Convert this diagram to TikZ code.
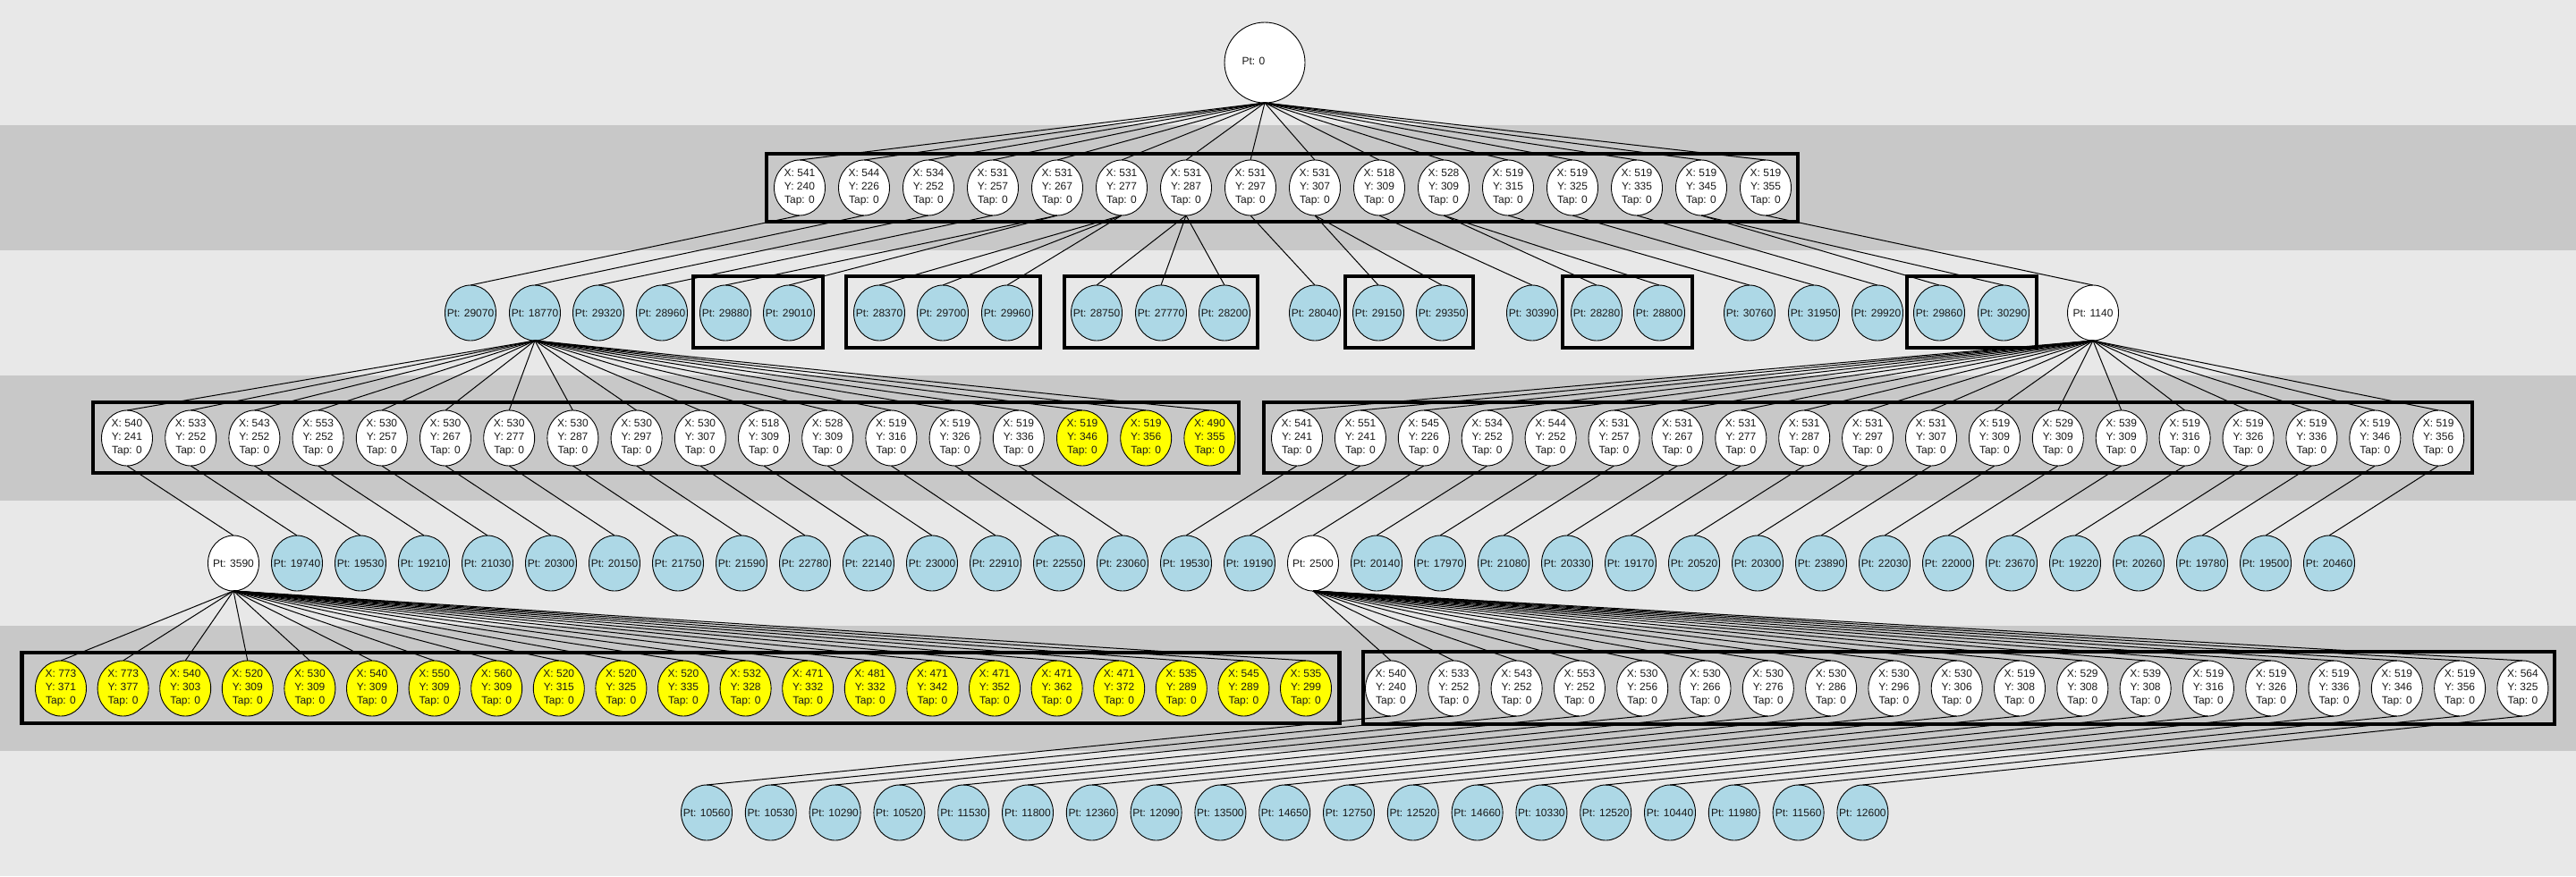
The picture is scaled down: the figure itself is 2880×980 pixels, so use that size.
\documentclass[tikz,border=0pt]{standalone}
\usepackage{fontspec}
\setmainfont{Liberation Sans}
\usetikzlibrary{shapes.geometric}
\definecolor{bandlight}{RGB}{232,232,232}
\definecolor{banddark}{RGB}{200,200,200}
\definecolor{ptblue}{RGB}{173,216,230}
\definecolor{hiyellow}{RGB}{255,255,0}
\definecolor{inkc}{RGB}{25,25,25}
\tikzset{
  ell/.style={ellipse, draw=black, line width=0.9pt, minimum width=57pt, minimum height=62pt, inner sep=0pt, outer sep=0pt},
  lbl/.style={font=\fontsize{12}{15}\selectfont, text=inkc, align=center, inner sep=0pt},
  edge/.style={draw=black, line width=1pt},
  grp/.style={draw=black, line width=4.5pt},
}
\begin{document}
\begin{tikzpicture}[x=1pt, y=-1pt]
\useasboundingbox (0,0) rectangle (2880,980);
% bands
\fill[bandlight] (0,0) rectangle (2880,980);
\foreach \yy in {140,420,700} \fill[banddark] (0,\yy) rectangle (2880,\yy+140);
% group boxes
\draw[grp] (857,172) rectangle (2010,248);
\draw[grp] (775,309) rectangle (920,389);
\draw[grp] (946,309) rectangle (1163,389);
\draw[grp] (1190,309) rectangle (1406,389);
\draw[grp] (1504,309) rectangle (1647,389);
\draw[grp] (1747,309) rectangle (1892,389);
\draw[grp] (2132,309) rectangle (2277,389);
\draw[grp] (104,450) rectangle (1385,529);
\draw[grp] (1413,450) rectangle (2764,529);
\draw[grp] (24.5,730) rectangle (1497.5,809);
\draw[grp] (1524,729) rectangle (2856,810);
% root
\node[ell, fill=white, minimum width=90pt, minimum height=90pt] (r0) at (1414,70) {};
\node[lbl] (tr0) at (1401.5,68) {Pt: 0};
% row 1
\foreach \lx/\ly [count=\i from 0] in {541/240,544/226,534/252,531/257,531/267,531/277,531/287,531/297,531/307,518/309,528/309,519/315,519/325,519/335,519/345,519/355}{
  \node[ell, fill=white] (a\i) at ({894+72*\i},210) {};
  \node[lbl] (ta\i) at (a\i) {X: \lx\\Y: \ly\\Tap: 0};
  \draw[edge] (r0.south) -- (a\i.north);
}
% row 2
\foreach \px/\lab/\pa/\fc [count=\i from 0] in {526/29070/0/ptblue, 598/18770/1/ptblue, 669/29320/2/ptblue, 740/28960/3/ptblue, 811/29880/4/ptblue, 882/29010/4/ptblue, 983/28370/5/ptblue, 1054/29700/5/ptblue, 1126/29960/5/ptblue, 1226/28750/6/ptblue, 1298/27770/6/ptblue, 1369/28200/6/ptblue, 1470/28040/7/ptblue, 1541/29150/8/ptblue, 1612/29350/8/ptblue, 1713/30390/9/ptblue, 1785/28280/10/ptblue, 1855/28800/10/ptblue, 1956/30760/11/ptblue, 2028/31950/12/ptblue, 2099/29920/13/ptblue, 2168/29860/14/ptblue, 2240/30290/14/ptblue, 2340/1140/15/white}{
  \node[ell, fill=\fc] (b\i) at (\px,350) {};
  \node[lbl] (tb\i) at (b\i) {Pt: \lab};
  \draw[edge] (a\pa.south) -- (b\i.north);
}
% row 3 left
\foreach \lx/\ly/\fc [count=\i from 0] in {540/241/white, 533/252/white, 543/252/white, 553/252/white, 530/257/white, 530/267/white, 530/277/white, 530/287/white, 530/297/white, 530/307/white, 518/309/white, 528/309/white, 519/316/white, 519/326/white, 519/336/white, 519/346/hiyellow, 519/356/hiyellow, 490/355/hiyellow}{
  \node[ell, fill=\fc] (c\i) at ({142+71.2*\i},490) {};
  \node[lbl] (tc\i) at (c\i) {X: \lx\\Y: \ly\\Tap: 0};
  \draw[edge] (b1.south) -- (c\i.north);
}
% row 3 right
\foreach \lx/\ly [count=\i from 0] in {541/241, 551/241, 545/226, 534/252, 544/252, 531/257, 531/267, 531/277, 531/287, 531/297, 531/307, 519/309, 529/309, 539/309, 519/316, 519/326, 519/336, 519/346, 519/356}{
  \node[ell, fill=white] (d\i) at ({1450+70.9*\i},490) {};
  \node[lbl] (td\i) at (d\i) {X: \lx\\Y: \ly\\Tap: 0};
  \draw[edge] (b23.south) -- (d\i.north);
}
% row 4
\foreach \lab/\fc [count=\i from 0] in {3590/white, 19740/ptblue, 19530/ptblue, 19210/ptblue, 21030/ptblue, 20300/ptblue, 20150/ptblue, 21750/ptblue, 21590/ptblue, 22780/ptblue, 22140/ptblue, 23000/ptblue, 22910/ptblue, 22550/ptblue, 23060/ptblue, 19530/ptblue, 19190/ptblue, 2500/white, 20140/ptblue, 17970/ptblue, 21080/ptblue, 20330/ptblue, 19170/ptblue, 20520/ptblue, 20300/ptblue, 23890/ptblue, 22030/ptblue, 22000/ptblue, 23670/ptblue, 19220/ptblue, 20260/ptblue, 19780/ptblue, 19500/ptblue, 20460/ptblue}{
  \node[ell, fill=\fc] (e\i) at ({261+71*\i},630) {};
  \node[lbl] (te\i) at (e\i) {Pt: \lab};
}
\foreach \i in {0,...,14} \draw[edge] (c\i.south) -- (e\i.north);
\foreach \i [evaluate=\i as \j using int(\i+15)] in {0,...,18} \draw[edge] (d\i.south) -- (e\j.north);
% row 5 left (yellow)
\foreach \lx/\ly [count=\i from 0] in {773/371, 773/377, 540/303, 520/309, 530/309, 540/309, 550/309, 560/309, 520/315, 520/325, 520/335, 532/328, 471/332, 481/332, 471/342, 471/352, 471/362, 471/372, 535/289, 545/289, 535/299}{
  \node[ell, fill=hiyellow] (f\i) at ({68+69.6*\i},770) {};
  \node[lbl] (tf\i) at (f\i) {X: \lx\\Y: \ly\\Tap: 0};
  \draw[edge] (e0.south) -- (f\i.north);
}
% row 5 right
\foreach \lx/\ly [count=\i from 0] in {540/240, 533/252, 543/252, 553/252, 530/256, 530/266, 530/276, 530/286, 530/296, 530/306, 519/308, 529/308, 539/308, 519/316, 519/326, 519/336, 519/346, 519/356, 564/325}{
  \node[ell, fill=white] (g\i) at ({1555+70.3*\i},770) {};
  \node[lbl] (tg\i) at (g\i) {X: \lx\\Y: \ly\\Tap: 0};
  \draw[edge] (e17.south) -- (g\i.north);
}
% row 6
\foreach \lab [count=\i from 0] in {10560, 10530, 10290, 10520, 11530, 11800, 12360, 12090, 13500, 14650, 12750, 12520, 14660, 10330, 12520, 10440, 11980, 11560, 12600}{
  \node[ell, fill=ptblue] (h\i) at ({790+71.8*\i},909) {};
  \node[lbl] (th\i) at (h\i) {Pt: \lab};
  \draw[edge] (g\i.south) -- (h\i.north);
}
\end{tikzpicture}
\end{document}
